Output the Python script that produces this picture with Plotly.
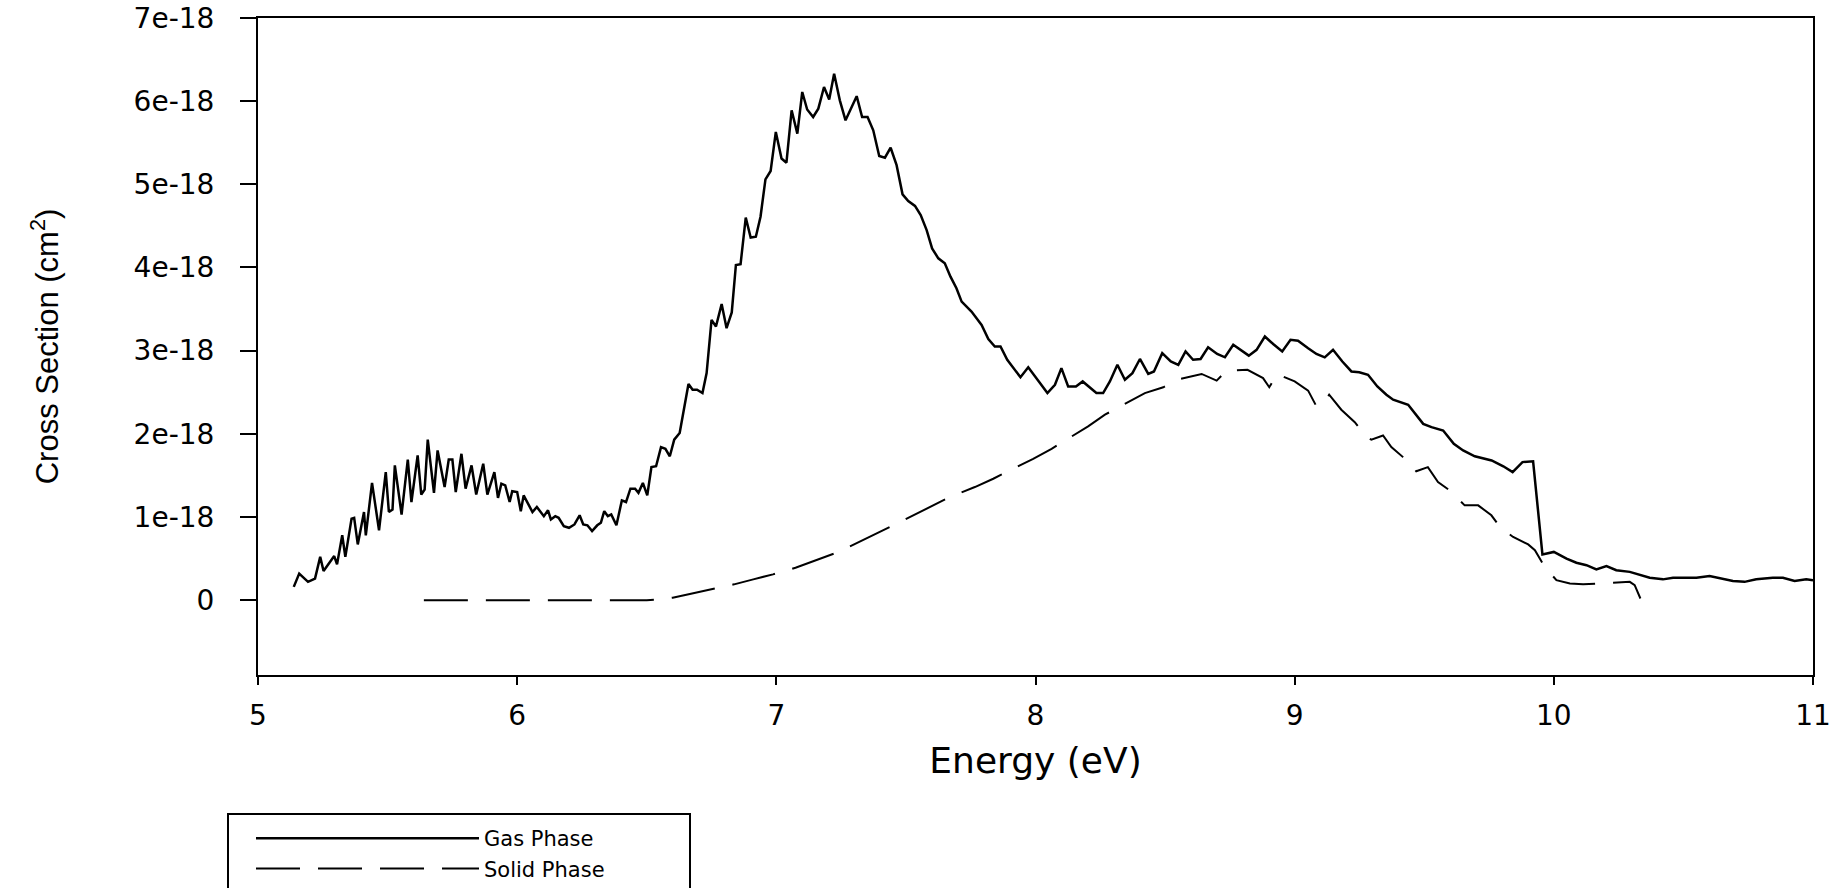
import numpy as np
import plotly.graph_objects as go

# ---- data (cross section in units of 1e-18 cm^2) ----
gas_energy = [5.138, 5.159, 5.193, 5.22, 5.24, 5.253, 5.294, 5.305, 5.325, 5.337, 5.361, 5.371, 5.385, 5.409,
              5.416, 5.44, 5.467, 5.493, 5.505, 5.519, 5.528, 5.554, 5.578, 5.592, 5.616, 5.63, 5.643, 5.655,
              5.679, 5.693, 5.72, 5.736, 5.75, 5.763, 5.785, 5.801, 5.824, 5.842, 5.869, 5.885, 5.912, 5.926,
              5.939, 5.954, 5.971, 5.981, 6.0, 6.014, 6.025, 6.059, 6.076, 6.103, 6.119, 6.13, 6.147, 6.16,
              6.18, 6.2, 6.221, 6.241, 6.255, 6.271, 6.289, 6.309, 6.323, 6.336, 6.35, 6.363, 6.383, 6.404,
              6.42, 6.437, 6.455, 6.468, 6.485, 6.502, 6.518, 6.536, 6.555, 6.572, 6.589, 6.606, 6.627, 6.647,
              6.661, 6.677, 6.694, 6.715, 6.731, 6.75, 6.767, 6.789, 6.808, 6.828, 6.844, 6.862, 6.882, 6.901,
              6.921, 6.939, 6.958, 6.978, 6.998, 7.02, 7.039, 7.059, 7.081, 7.1, 7.119, 7.142, 7.162, 7.184,
              7.204, 7.223, 7.245, 7.267, 7.29, 7.31, 7.331, 7.352, 7.374, 7.397, 7.419, 7.441, 7.464, 7.487,
              7.509, 7.535, 7.557, 7.58, 7.601, 7.625, 7.65, 7.672, 7.695, 7.715, 7.753, 7.792, 7.818, 7.843,
              7.865, 7.891, 7.942, 7.972, 8.046, 8.075, 8.1, 8.126, 8.156, 8.182, 8.235, 8.261, 8.287, 8.316,
              8.345, 8.374, 8.403, 8.435, 8.457, 8.489, 8.522, 8.551, 8.579, 8.608, 8.637, 8.666, 8.701, 8.731,
              8.763, 8.792, 8.823, 8.853, 8.885, 8.917, 8.952, 8.984, 9.013, 9.052, 9.084, 9.116, 9.148, 9.184,
              9.219, 9.249, 9.283, 9.319, 9.354, 9.38, 9.438, 9.496, 9.528, 9.573, 9.614, 9.65, 9.695, 9.76,
              9.805, 9.841, 9.879, 9.92, 9.956, 10.0, 10.049, 10.087, 10.126, 10.164, 10.203, 10.241, 10.293,
              10.37, 10.421, 10.46, 10.55, 10.601, 10.691, 10.736, 10.781, 10.845, 10.884, 10.929, 10.974, 11.0]
gas_cs = [0.16, 0.32, 0.22, 0.26, 0.52, 0.35, 0.53, 0.43, 0.78, 0.52, 0.98, 0.99, 0.67, 1.06,
          0.78, 1.41, 0.84, 1.54, 1.06, 1.09, 1.62, 1.03, 1.69, 1.18, 1.74, 1.27, 1.33, 1.93,
          1.29, 1.80, 1.36, 1.69, 1.69, 1.30, 1.76, 1.34, 1.62, 1.27, 1.64, 1.27, 1.54, 1.23,
          1.40, 1.38, 1.18, 1.31, 1.30, 1.07, 1.26, 1.06, 1.12, 1.01, 1.08, 0.97, 1.01, 0.99,
          0.89, 0.87, 0.91, 1.02, 0.91, 0.90, 0.83, 0.90, 0.93, 1.07, 1.01, 1.03, 0.90, 1.20,
          1.18, 1.34, 1.34, 1.29, 1.41, 1.26, 1.60, 1.61, 1.84, 1.82, 1.73, 1.93, 2.01, 2.38,
          2.60, 2.53, 2.53, 2.49, 2.73, 3.37, 3.29, 3.56, 3.27, 3.46, 4.03, 4.04, 4.60, 4.36,
          4.37, 4.61, 5.06, 5.16, 5.63, 5.31, 5.26, 5.89, 5.61, 6.11, 5.90, 5.81, 5.91, 6.17,
          6.02, 6.33, 6.01, 5.77, 5.93, 6.06, 5.81, 5.81, 5.65, 5.34, 5.32, 5.44, 5.23, 4.88,
          4.80, 4.74, 4.63, 4.45, 4.23, 4.11, 4.05, 3.89, 3.75, 3.59, 3.47, 3.31, 3.14, 3.05,
          3.05, 2.89, 2.68, 2.80, 2.49, 2.59, 2.79, 2.57, 2.57, 2.63, 2.49, 2.49, 2.63, 2.83,
          2.65, 2.73, 2.90, 2.72, 2.75, 2.97, 2.87, 2.83, 2.99, 2.89, 2.90, 3.04, 2.96, 2.92,
          3.07, 3.01, 2.94, 3.01, 3.17, 3.08, 2.99, 3.13, 3.12, 3.03, 2.96, 2.92, 3.01, 2.87,
          2.75, 2.74, 2.71, 2.57, 2.47, 2.41, 2.35, 2.12, 2.08, 2.04, 1.88, 1.80, 1.73, 1.68,
          1.61, 1.54, 1.66, 1.67, 0.55, 0.58, 0.50, 0.45, 0.42, 0.37, 0.41, 0.36, 0.34,
          0.27, 0.25, 0.27, 0.27, 0.29, 0.23, 0.22, 0.25, 0.27, 0.27, 0.23, 0.25, 0.24]

solid_energy = [5.64, 6.0, 6.5, 6.55, 6.6, 6.675, 6.75, 6.837, 6.911, 6.987, 7.074, 7.24, 7.49, 7.67,
                7.766, 7.837, 7.991, 8.062, 8.203, 8.268, 8.422, 8.493, 8.544, 8.641, 8.699, 8.737,
                8.818, 8.878, 8.902, 8.932, 9.0, 9.052, 9.084, 9.116, 9.133, 9.18, 9.232, 9.277, 9.296,
                9.341, 9.373, 9.418, 9.469, 9.514, 9.553, 9.598, 9.656, 9.708, 9.759, 9.792, 9.843,
                9.901, 9.927, 9.965, 10.01, 10.062, 10.113, 10.164, 10.241, 10.293, 10.312, 10.334]
solid_cs = [0.0, 0.0, 0.0, 0.01, 0.03, 0.08, 0.13, 0.19, 0.25, 0.31, 0.39, 0.58, 0.96, 1.24,
            1.36, 1.46, 1.70, 1.82, 2.09, 2.23, 2.49, 2.56, 2.65, 2.72, 2.64, 2.76,
            2.77, 2.67, 2.56, 2.72, 2.63, 2.52, 2.33, 2.39, 2.47, 2.29, 2.14, 1.96, 1.93,
            1.98, 1.84, 1.72, 1.55, 1.60, 1.42, 1.32, 1.14, 1.14, 1.02, 0.88, 0.76,
            0.67, 0.60, 0.40, 0.24, 0.20, 0.19, 0.20, 0.21, 0.22, 0.18, 0.02]

x_ticks = [5, 6, 7, 8, 9, 10, 11]
y_ticks_units = [0, 1, 2, 3, 4, 5, 6, 7]
y_tick_labels = ["0", "1e-18", "2e-18", "3e-18", "4e-18", "5e-18", "6e-18", "7e-18"]
scale = 1e-18

ARIAL = "Liberation Sans, Arial, sans-serif"
WIDE = "DejaVu Sans, Verdana, sans-serif"

fig = go.Figure()
fig.add_trace(go.Scatter(x=gas_energy, y=np.array(gas_cs) * scale, mode="lines", name="Gas Phase",
                         line=dict(color="black", width=2.5)))
fig.add_trace(go.Scatter(x=solid_energy, y=np.array(solid_cs) * scale, mode="lines", name="Solid Phase",
                         line=dict(color="black", width=2, dash="44px,18px")))

axis_common = dict(showline=True, linecolor="black", linewidth=2, mirror=True, showgrid=False,
                   zeroline=False, ticks="outside", tickcolor="black", tickwidth=2,
                   tickfont=dict(family=WIDE, size=28, color="black"))

# legend frame (the reference frame runs off the bottom of the picture)
W_PLOT, H_PLOT, L, T = 1555.0, 657.0, 258.0, 18.0
def px_x(px):
    return (px - L) / W_PLOT
def px_y(py):
    return (T + H_PLOT - py) / H_PLOT

fig.add_shape(type="rect", xref="paper", yref="paper",
              x0=px_x(228), x1=px_x(690), y0=px_y(814), y1=px_y(905),
              line=dict(color="black", width=2), fillcolor="rgba(0,0,0,0)", layer="above")

fig.update_layout(
    width=1842, height=888,
    margin=dict(l=258, r=29, t=18, b=213, autoexpand=False),
    paper_bgcolor="white", plot_bgcolor="white",
    font=dict(family=ARIAL, color="black"),
    xaxis=dict(range=[5, 11], tickvals=x_ticks, ticklen=8, ticklabelstandoff=6,
               title=dict(text="Energy (eV)", font=dict(family=WIDE, size=36, color="black"), standoff=17),
               **axis_common),
    yaxis=dict(range=[-0.9 * scale, 7 * scale], tickvals=[v * scale for v in y_ticks_units],
               ticktext=y_tick_labels, ticklen=16, ticklabelstandoff=20,
               title=dict(text="Cross Section (cm<sup>2</sup>)", font=dict(family=ARIAL, size=31, color="black"),
                          standoff=66),
               **axis_common),
    showlegend=True,
    legend=dict(x=px_x(251), y=px_y(818), xanchor="left", yanchor="top", borderwidth=0,
                bgcolor="rgba(0,0,0,0)", font=dict(family=WIDE, size=21, color="black"), itemwidth=223,
                traceorder="normal"),
)

fig.write_html("out.html")
